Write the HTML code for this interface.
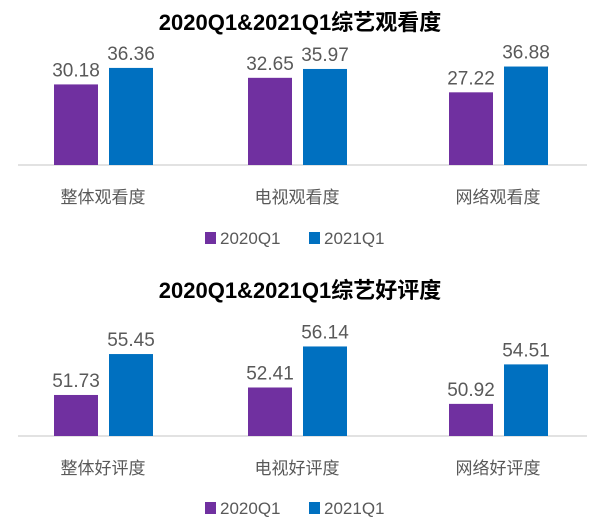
<!DOCTYPE html>
<html><head><meta charset="utf-8"><style>
body{margin:0;background:#fff;width:600px;height:530px;overflow:hidden}
svg{display:block}
text{font-family:"Liberation Sans","Noto Sans CJK SC",sans-serif}
</style></head><body>
<svg id="c" width="600" height="530"></svg>
<script>
const categories1 = ["整体观看度","电视观看度","网络观看度"];
const series1a = [30.18,32.65,27.22];
const series1b = [36.36,35.97,36.88];
const categories2 = ["整体好评度","电视好评度","网络好评度"];
const series2a = [51.73,52.41,50.92];
const series2b = [55.45,56.14,54.51];
const seriesNames = ["2020Q1","2021Q1"];
const colors = ["#7030A0","#0070C0"];
const svg = document.getElementById('c');
const NS = "http://www.w3.org/2000/svg";
function mk(tag, attrs, txt){const e=document.createElementNS(NS,tag);for(const k in attrs)e.setAttribute(k,attrs[k]);if(txt!=null)e.textContent=txt;svg.appendChild(e);return e;}
const groupCenters=[103,297,498];
function drawChart(prefix,title,titleY,cats,a,b,base,min,scale,catY,legY){
  const y=v=>base-(v-min)*scale;
  let t=mk('text',{x:300,y:titleY,'text-anchor':'middle','font-size':22,'font-weight':'bold',fill:'#000'},title);
  
  
  let l=mk('line',{x1:18,x2:587,y1:base,y2:base,stroke:'#D9D9D9','stroke-width':1.5});
  
  
  cats.forEach((c,i)=>{
    [a[i],b[i]].forEach((v,s)=>{
      const x=groupCenters[i]+(s===0?-49:6);
      const r=mk('rect',{x:x,y:y(v),width:44,height:base-y(v),fill:colors[s]});
      
      
      const tx=mk('text',{x:x+22,y:y(v)-8,'text-anchor':'middle','font-size':19,fill:'#595959'},v.toFixed(2));
      
      
    });
    const ct=mk('text',{x:groupCenters[i],y:catY,'text-anchor':'middle','font-size':17,fill:'#595959'},c);
    
    
  });
  seriesNames.forEach((n,s)=>{
    const lx=s===0?205:309;
    const sq=mk('rect',{x:lx,y:legY-12,width:11,height:12,fill:colors[s]});
    
    
    const lt=mk('text',{x:lx+15,y:legY,'font-size':17,fill:'#595959'},n);
    
    
  });
}
drawChart('viewing',"2020Q1&2021Q1综艺观看度",30,categories1,series1a,series1b,165,0,2.67,203,244);
drawChart('rating',"2020Q1&2021Q1综艺好评度",298,categories2,series2a,series2b,436,48,11,474,514);
</script>
</body></html>
